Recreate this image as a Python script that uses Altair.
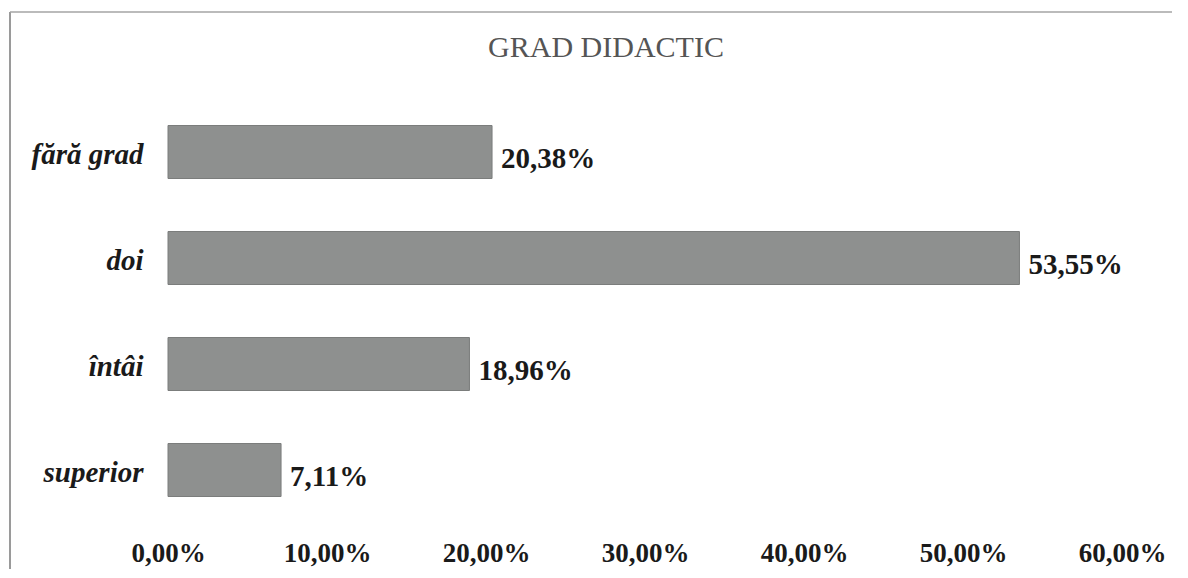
import altair as alt
import pandas as pd

categories = ["fără grad", "doi", "întâi", "superior"]
values = [20.38, 53.55, 18.96, 7.11]
tick_values = [0, 10, 20, 30, 40, 50, 60]
title_text = "GRAD DIDACTIC"

df = pd.DataFrame({"grad": categories, "procent": values})

FONT = "Liberation Serif"
fmt = "replace(format({v}, '.2f'), '.', ',') + '%'"

y = alt.Y(
    "grad:N",
    sort=categories,
    title=None,
    scale=alt.Scale(paddingInner=0.5, paddingOuter=0.25),
    axis=alt.Axis(
        labelFont=FONT, labelFontSize=29, labelFontStyle="italic",
        labelFontWeight="bold", labelColor="#1a1a1a", labelPadding=25,
        ticks=False, domain=False, grid=False, labelOffset=3,
    ),
)
x = alt.X(
    "procent:Q",
    title=None,
    scale=alt.Scale(domain=[0, 60], nice=False),
    axis=alt.Axis(
        values=tick_values,
        labelExpr=fmt.format(v="datum.value"),
        grid=False, ticks=False, domain=False,
        labelFont=FONT, labelFontSize=27, labelFontWeight="bold",
        labelColor="#1a1a1a", labelPadding=17, labelFlush=False,
    ),
)

base = alt.Chart(df)
bars = base.mark_bar(color="#8e908f", stroke="#7b7d7c", strokeWidth=1).encode(x=x, y=y)
text = base.mark_text(
    align="left", baseline="middle", dx=9, dy=7,
    font=FONT, fontSize=29, fontWeight="bold", color="#1a1a1a",
).transform_calculate(
    label=fmt.format(v="datum.procent")
).encode(
    x=alt.X("procent:Q"),
    y=alt.Y("grad:N", sort=categories),
    text="label:N",
)

frame_df = pd.DataFrame({"a": [0]})
left_line = alt.Chart(frame_df).mark_rule(color="#9a9a9a", strokeWidth=2).encode(
    x=alt.value(-158), y=alt.value(-87), y2=alt.value(470)
)
top_line = alt.Chart(frame_df).mark_rule(color="#a5a5a5", strokeWidth=1.5).encode(
    x=alt.value(-158), x2=alt.value(1200), y=alt.value(-87)
)
title = alt.Chart(frame_df).mark_text(
    align="center", baseline="alphabetic", font=FONT, fontSize=30,
    fontWeight="normal", color="#555555",
).encode(x=alt.value(438), y=alt.value(-42), text=alt.value(title_text))

chart = alt.layer(bars, text, left_line, top_line, title).properties(
    width=954,
    height=424,
    autosize=alt.AutoSizeParams(type="none"),
    padding={"left": 160, "top": 91, "right": 50, "bottom": 46},
).configure_view(stroke=None)

chart.save("out.html", embed_options={"renderer": "svg", "actions": False})
